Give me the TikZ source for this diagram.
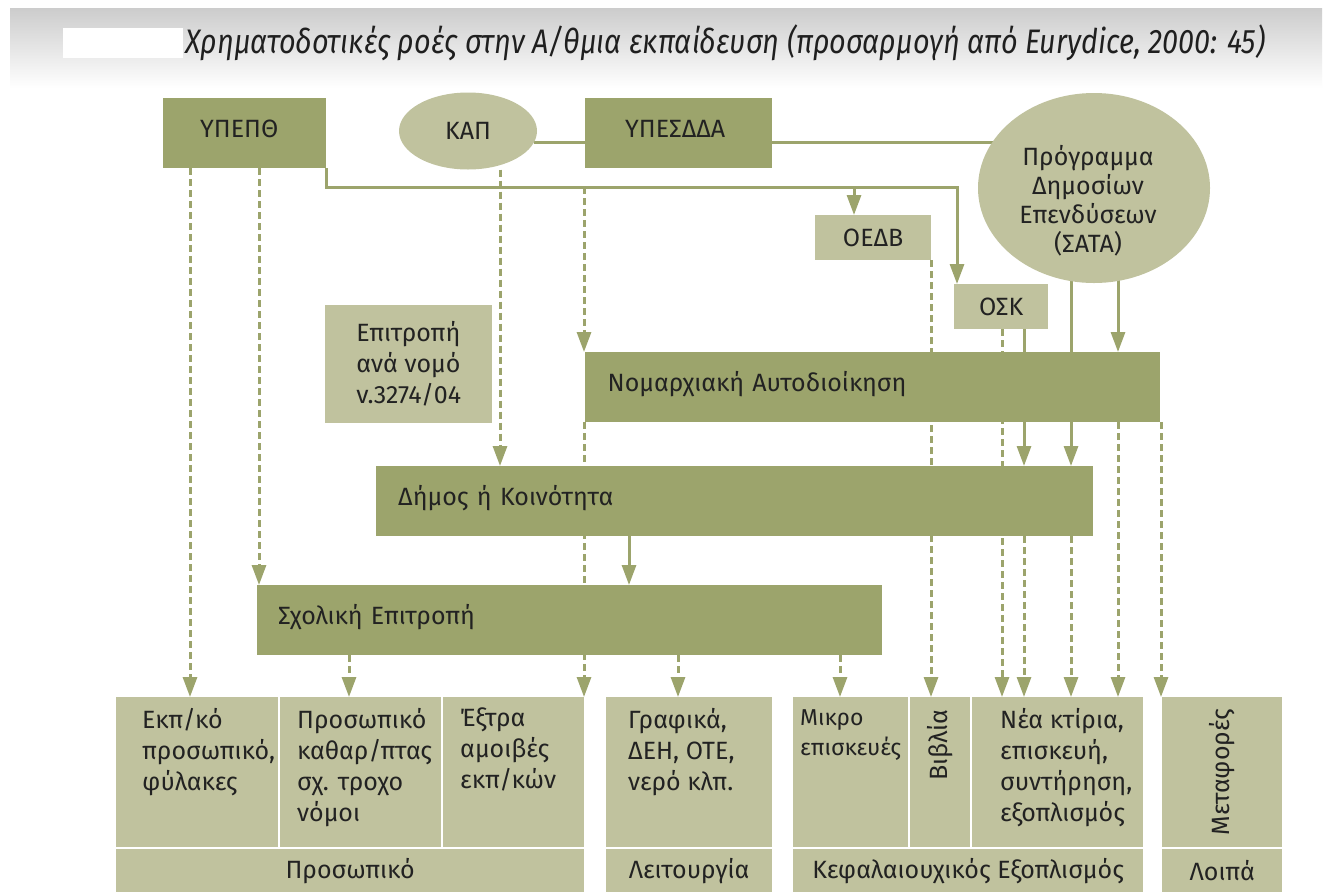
\documentclass[tikz,border=0pt]{standalone}
\usepackage{fontspec}
\usepackage{graphicx}
\setmainfont{Fira Sans}
\usetikzlibrary{arrows.meta,shapes.geometric,calc}
\pgfdeclarelayer{back}
\pgfdeclarelayer{bg}
\pgfsetlayers{back,bg,main}
\definecolor{dk}{HTML}{9CA46C}
\definecolor{lt}{HTML}{C0C29E}
\definecolor{tx}{HTML}{222222}
\begin{document}
\begin{tikzpicture}[x=1pt,y=-1pt,
  every node/.style={font=\fontsize{25}{31}\selectfont, text=tx},
  dbox/.style={fill=dk, rectangle, inner ysep=0pt, anchor=north west, align=left, text height=18pt, text depth=10pt},
  lbox/.style={fill=lt, rectangle, inner ysep=0pt, anchor=north west, align=center},
  ttext/.style={anchor=north west, inner sep=0pt, align=left},
  conn/.style={draw=dk, line width=3pt},
  sarr/.style={conn, -{Triangle[width=14pt,length=20pt]}},
  dashln/.style={conn, dash pattern=on 7pt off 4pt},
  darr/.style={dashln, -{Triangle[width=14pt,length=20pt]}},
]
\useasboundingbox (0,0) rectangle (1330,892);
\begin{pgfonlayer}{back}
\fill[white] (0,0) rectangle (1330,892);
\shade[top color=black!20, bottom color=white] (10,8) rectangle (1322,88);
\fill[white] (63,28) rectangle (183,58);
\end{pgfonlayer}

% title
\node[anchor=base west, inner sep=0pt, font=\fontsize{34}{38}\selectfont\itshape, text=black!88] (title) at (185,53)
  {\resizebox{1080pt}{\height}{Χρηματοδοτικές ροές στην Α/θμια εκπαίδευση (προσαρμογή από Eurydice, 2000: 45)}};

% helper coordinates
\coordinate (r187) at (0,187);
\foreach \x in {190,259,349,500,584,629,678,840,854,931,957,1002,1024,1071,1118,1161}
  \coordinate (c\x) at (\x,0);

% top row
\node[dbox, minimum width=163, minimum height=70, text width=89, inner xsep=37] (ypepth) at (163,98) {ΥΠΕΠΘ};
\node[ellipse, fill=lt, minimum width=138, minimum height=77, inner sep=0pt] (kap) at (468,131) {ΚΑΠ};
\node[dbox, minimum width=187, minimum height=70, text width=107, inner xsep=40] (ypesdda) at (585,98) {ΥΠΕΣΔΔΑ};
\node[ellipse, fill=lt, minimum width=232, minimum height=190, inner sep=0pt] (sata) at (1094,188) {};
\node[align=center, font=\fontsize{25}{29}\selectfont] (sataT) at (1088,201) {Πρόγραμμα\\Δημοσίων\\Επενδύσεων\\(ΣΑΤΑ)};

\node[lbox, minimum width=116, minimum height=45, inner xsep=0pt] (oedv) at (815,215) {ΟΕΔΒ};
\node[lbox, minimum width=94, minimum height=45, inner xsep=0pt] (osk) at (954,284) {ΟΣΚ};
\node[lbox, minimum width=167, minimum height=118, inner xsep=27, align=left] (epit) at (325,305) {Επιτροπή\\ανά νομό\\v.3274/04};

% middle bars
\node[dbox, minimum width=575, minimum height=70, text width=530, inner xsep=22] (nomos) at (585,352) {Νομαρχιακή Αυτοδιοίκηση};
\node[dbox, minimum width=717, minimum height=70, text width=673, inner xsep=22] (dimos) at (376,466) {Δήμος ή Κοινότητα};
\node[dbox, minimum width=625, minimum height=70, text width=583, inner xsep=21] (sxol) at (257,585) {Σχολική Επιτροπή};

% bottom boxes
\node[lbox, minimum width=162, minimum height=150, inner sep=0pt] (b1) at (116,697) {};
\node[lbox, minimum width=161, minimum height=150, inner sep=0pt] (b2) at (280,697) {};
\node[lbox, minimum width=141, minimum height=150, inner sep=0pt] (b3) at (443,697) {};
\node[lbox, minimum width=468, minimum height=43, inner sep=0pt] (barA) at (116,849) {Προσωπικό};
\node[lbox, minimum width=166, minimum height=150, inner sep=0pt] (l1) at (606,697) {};
\node[lbox, minimum width=166, minimum height=43, inner sep=0pt] (barB) at (606,849) {Λειτουργία};
\node[lbox, minimum width=115, minimum height=150, inner sep=0pt] (m1) at (793,697) {};
\node[lbox, minimum width=60, minimum height=150, inner sep=0pt] (m2) at (910,697) {};
\node[lbox, minimum width=171, minimum height=150, inner sep=0pt] (m3) at (972,697) {};
\node[lbox, minimum width=350, minimum height=43, inner sep=0pt] (barC) at (793,849) {Κεφαλαιουχικός Εξοπλισμός};
\node[lbox, minimum width=120, minimum height=150, inner sep=0pt] (lo) at (1162,697) {};
\node[lbox, minimum width=120, minimum height=43, inner sep=0pt] (barD) at (1162,849) {Λοιπά};

\node[ttext] (b1t) at (142,708) {Εκπ/κό\\προσωπικό,\\φύλακες};
\node[ttext] (b2t) at (297,708) {Προσωπικό\\καθαρ/πτας\\σχ. τροχο\\νόμοι};
\node[ttext] (b3t) at (460,708) {Έξτρα\\αμοιβές\\εκπ/κών};
\node[ttext] (l1t) at (628,708) {Γραφικά,\\ΔΕΗ, ΟΤΕ,\\νερό κλπ.};
\node[ttext, font=\fontsize{23}{30}\selectfont] (m1t) at (800,709) {Μικρο\\επισκευές};
\node[rotate=90, inner sep=0pt] (m2t) at (940,745) {Βιβλία};
\node[ttext] (m3t) at (1000,708) {Νέα κτίρια,\\επισκευή,\\συντήρηση,\\εξοπλισμός};
\node[rotate=90, inner sep=0pt] (lot) at (1222,772) {Μεταφορές};

% connectors
\begin{pgfonlayer}{bg}
\draw[conn] (kap.-10) -- (kap.-10 -| ypesdda.west);
\draw[conn] (kap.-10 -| ypesdda.east) -- (kap.-10 -| sata.center);
\draw[sarr] (ypepth.south east) -- (ypepth.south east |- r187) -- (r187 -| c957) -- (osk.north -| c957);
\draw[sarr] (r187 -| c854) -- (oedv.north -| c854);
\draw[darr] (ypepth.south -| c190) -- (b1.north -| c190);
\draw[darr] (ypepth.south -| c259) -- (sxol.north -| c259);
\draw[darr] (kap.south -| c500) -- (dimos.north -| c500);
\draw[darr] (r187 -| c584) -- (nomos.north -| c584);
\draw[darr] (nomos.south -| c584) -- (b3.north -| c584);
\draw[darr] (oedv.south -| c931) -- (m2.north -| c931);
\draw[darr] (osk.south -| c1002) -- (m3.north -| c1002);
\draw[conn] (osk.south -| c1024) -- (nomos.north -| c1024);
\draw[sarr] (nomos.south -| c1024) -- (dimos.north -| c1024);
\draw[darr] (dimos.south -| c1024) -- (m3.north -| c1024);
\draw[conn] (sata.center -| c1071) -- (nomos.north -| c1071);
\draw[sarr] (nomos.south -| c1071) -- (dimos.north -| c1071);
\draw[darr] (dimos.south -| c1071) -- (m3.north -| c1071);
\draw[sarr] (sata.center -| c1118) -- (nomos.north -| c1118);
\draw[darr] (nomos.south -| c1118) -- (m3.north -| c1118);
\draw[darr] (nomos.south -| c1161) -- (lo.north -| c1161);
\draw[sarr] (dimos.south -| c629) -- (sxol.north -| c629);
\draw[darr] (sxol.south -| c349) -- (b2.north -| c349);
\draw[darr] (sxol.south -| c678) -- (l1.north -| c678);
\draw[darr] (sxol.south -| c840) -- (m1.north -| c840);
\end{pgfonlayer}
\end{tikzpicture}
\end{document}
